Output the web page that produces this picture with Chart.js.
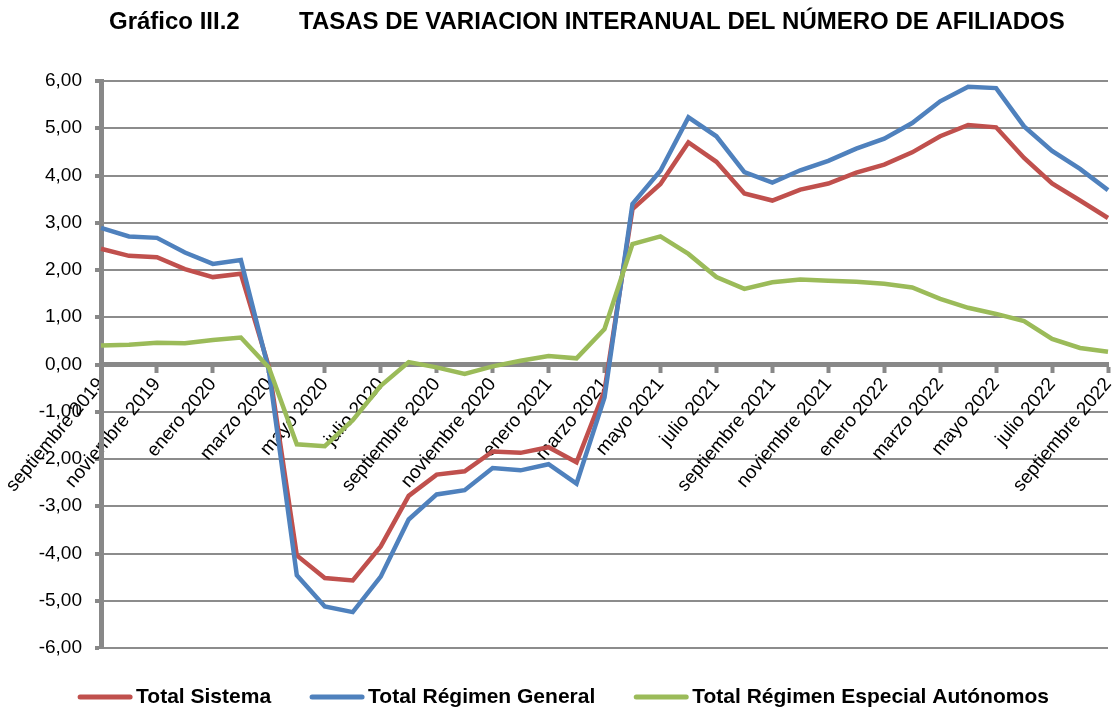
<!DOCTYPE html>
<html>
<head>
<meta charset="utf-8">
<script src="https://cdn.jsdelivr.net/npm/chart.js@4/dist/chart.umd.min.js"></script>
<style>
  html, body { margin: 0; padding: 0; background: #fff; }
  #grafico { display: block; background: #fff; }
</style>
</head>
<body>
<canvas id="grafico" width="1115" height="709"></canvas>
<script>
var tituloNumero = "Gráfico III.2";
var tituloTexto = "TASAS DE VARIACION INTERANUAL DEL NÚMERO DE AFILIADOS";

var meses = [
	"septiembre 2019", "octubre 2019", "noviembre 2019", "diciembre 2019",
	"enero 2020", "febrero 2020", "marzo 2020", "abril 2020", "mayo 2020", "junio 2020",
	"julio 2020", "agosto 2020", "septiembre 2020", "octubre 2020", "noviembre 2020", "diciembre 2020",
	"enero 2021", "febrero 2021", "marzo 2021", "abril 2021", "mayo 2021", "junio 2021",
	"julio 2021", "agosto 2021", "septiembre 2021", "octubre 2021", "noviembre 2021", "diciembre 2021",
	"enero 2022", "febrero 2022", "marzo 2022", "abril 2022", "mayo 2022", "junio 2022",
	"julio 2022", "agosto 2022", "septiembre 2022"
];

var totalSistema = [2.45, 2.30, 2.27, 2.02, 1.85, 1.92, -0.05, -4.04, -4.52, -4.57, -3.85, -2.78, -2.33,
	-2.26, -1.84, -1.87, -1.75, -2.07, -0.55, 3.29, 3.82, 4.70, 4.29, 3.62, 3.47, 3.70, 3.83,
	4.06, 4.23, 4.49, 4.83, 5.07, 5.02, 4.37, 3.83, 3.47, 3.10];

var totalGeneral = [2.89, 2.71, 2.68, 2.37, 2.13, 2.21, -0.12, -4.46, -5.12, -5.24, -4.49, -3.28, -2.75,
	-2.66, -2.19, -2.24, -2.11, -2.52, -0.70, 3.40, 4.10, 5.23, 4.83, 4.07, 3.85, 4.11, 4.31,
	4.57, 4.78, 5.11, 5.57, 5.88, 5.85, 5.04, 4.52, 4.14, 3.69];

var totalAutonomos = [0.40, 0.42, 0.46, 0.45, 0.52, 0.57, -0.06, -1.69, -1.73, -1.18, -0.45, 0.05, -0.06,
	-0.20, -0.04, 0.08, 0.18, 0.13, 0.75, 2.55, 2.71, 2.34, 1.85, 1.60, 1.74, 1.80, 1.77,
	1.75, 1.71, 1.63, 1.39, 1.20, 1.07, 0.92, 0.54, 0.35, 0.27];

var fuente = '"Liberation Sans", Arial, sans-serif';
var gris = "#888888";

// titulo arriba y leyenda abajo, dibujados a mano
var titulo_plugin = {
	id: 'titulo',
	afterDraw: function(chart){
		var ctx = chart.ctx;
		ctx.save();
		ctx.font = 'bold 24px ' + fuente;
		ctx.fillStyle = '#000';
		ctx.textBaseline = 'middle';
		ctx.fillText(tituloNumero, 109, 22);
		ctx.fillText(tituloTexto, 299, 22);

		// leyenda
		ctx.font = 'bold 21px ' + fuente;
		var linea = 54, hueco = 4, separa = 39;
		var sets = chart.data.datasets;
		var total = 0;
		sets.forEach(function(ds, i){
			total += linea + hueco + ctx.measureText(ds.label).width;
			if (i < sets.length - 1) total += separa;
		});
		var x = (chart.width - total) / 2 + 6;
		var y = 697;
		sets.forEach(function(ds){
			ctx.strokeStyle = ds.borderColor;
			ctx.lineWidth = 5;
			ctx.lineCap = 'round';
			ctx.beginPath();
			ctx.moveTo(x + 2, y);
			ctx.lineTo(x + linea - 2, y);
			ctx.stroke();
			x += linea + hueco;
			ctx.fillStyle = '#000';
			ctx.fillText(ds.label, x, y);
			x += ctx.measureText(ds.label).width + separa;
		});
		ctx.restore();
	}
};

function init_chart_afiliados(){

	if( typeof (Chart) === 'undefined'){ return; }

	var chart_line_settings = {
		type: 'line',
		data: {
			labels: meses,
			datasets: [{
				label: "Total Sistema",
				data: totalSistema,
				borderColor: "#C0504D",
				backgroundColor: "#C0504D",
				order: 3
			}, {
				label: "Total Régimen General",
				data: totalGeneral,
				borderColor: "#4F81BD",
				backgroundColor: "#4F81BD",
				order: 2
			}, {
				label: "Total Régimen Especial Autónomos",
				data: totalAutonomos,
				borderColor: "#9BBB59",
				backgroundColor: "#9BBB59",
				order: 1
			}]
		},
		options: {
			responsive: false,
			animation: false,
			elements: {
				line: { borderWidth: 4.5, tension: 0, fill: false },
				point: { radius: 0 }
			},
			layout: {
				padding: { top: 81, right: 7, bottom: 61, left: 0 }
			},
			plugins: {
				title: { display: false },
				tooltip: { enabled: false },
				legend: { display: false }
			},
			scales: {
				x: {
					position: { y: 0 },
					afterFit: function(scale){ scale.paddingLeft = 0; scale.paddingRight = 0; },
					grid: {
						display: true,
						drawOnChartArea: false,
						drawTicks: true,
						tickLength: 6,
						tickWidth: 4,
						tickColor: gris
					},
					border: { display: true, color: gris, width: 5 },
					ticks: {
						autoSkip: false,
						maxRotation: 50,
						minRotation: 50,
						padding: 3,
						color: '#000',
						font: { family: fuente, size: 19 },
						callback: function(v, i){
							return i % 2 === 0 ? this.getLabelForValue(v) : null;
						}
					}
				},
				y: {
					min: -6,
					max: 6,
					afterFit: function(scale){ scale.width = 101; },
					grid: {
						color: "#8c8c8c",
						lineWidth: 2,
						drawTicks: true,
						tickLength: 6,
						tickWidth: 4,
						tickColor: gris
					},
					border: { display: true, color: gris, width: 5 },
					ticks: {
						stepSize: 1,
						padding: 13,
						color: '#000',
						font: { family: fuente, size: 19 },
						callback: function(v){ return v.toFixed(2).replace('.', ','); }
					}
				}
			}
		},
		plugins: [titulo_plugin]
	};

	var chart_element = document.getElementById('grafico');
	var chart_line = new Chart(chart_element, chart_line_settings);

}

init_chart_afiliados();
</script>
</body>
</html>
